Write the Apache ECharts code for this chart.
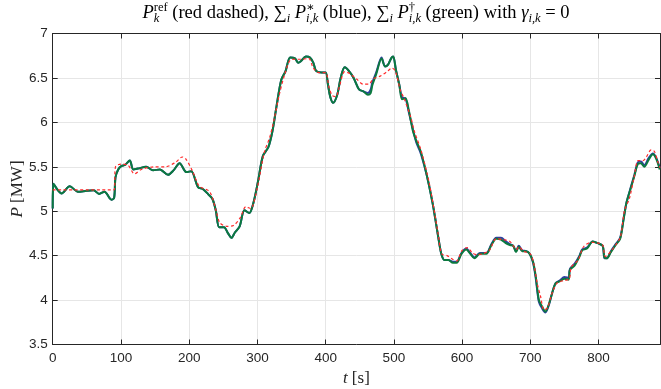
<!DOCTYPE html>
<html>
<head>
<meta charset="utf-8">
<script src="https://cdn.jsdelivr.net/npm/echarts@6/dist/echarts.min.js"></script>
<style>
html,body{margin:0;padding:0;background:#fff;}
#c{width:661px;height:389px;}
</style>
</head>
<body>
<div id="c"></div>
<script>
// ---- data (time in s, power in MW) ----
const tGreen = [0,1,13,25,37,50,60,68,76,86,90,92,96,101,106,113,118,125,137,147,157,169,177,186,196,203,213,220,228,234,239,244,251,257,262,267,274,281,288,294,301,308,316,322,328,335,341,348,355,360,364,371,377,382,386,394,400,403.5,407,411,417,422,428,434,441,449,455,462,466,468.5,474,482,487,491.5,496,499,503,508,512,517,522,528,533,539,545,551,557,561,565,569.5,574,580,586.5,592,599,606,612,618,626,635.5,643,650,657,664,670,675,679,683,688,694,699,704,708,712.5,717,722,727,732,737,743,750,756,758,765,772,776,783,791.5,799,806,808.6,812,818,825,831.6,836.5,841,847.6,852.5,857.5,862,867,873.5,879.6,884.5,889.6];
const pGreen = [5.03,5.31,5.20,5.28,5.22,5.23,5.235,5.195,5.22,5.13,5.15,5.38,5.47,5.51,5.52,5.57,5.47,5.48,5.50,5.46,5.47,5.41,5.46,5.54,5.44,5.45,5.27,5.25,5.19,5.14,5.01,4.82,4.82,4.75,4.70,4.76,4.83,5.01,4.98,5.09,5.34,5.62,5.72,5.90,6.18,6.48,6.57,6.73,6.72,6.67,6.69,6.74,6.73,6.67,6.58,6.56,6.56,6.42,6.28,6.22,6.31,6.50,6.62,6.58,6.50,6.37,6.35,6.31,6.33,6.42,6.54,6.72,6.63,6.65,6.72,6.74,6.59,6.42,6.26,6.27,6.13,5.90,5.79,5.68,5.51,5.31,5.08,4.90,4.71,4.52,4.45,4.45,4.42,4.42,4.52,4.57,4.52,4.47,4.52,4.52,4.62,4.69,4.68,4.64,4.62,4.61,4.54,4.60,4.55,4.55,4.52,4.43,4.26,4.00,3.93,3.87,3.95,4.08,4.19,4.21,4.24,4.23,4.34,4.39,4.49,4.56,4.58,4.66,4.64,4.61,4.48,4.47,4.54,4.62,4.69,4.90,5.10,5.27,5.40,5.53,5.54,5.50,5.58,5.64,5.59,5.47];
const tBlue = tGreen;
const pBlue = [5.03,5.31,5.20,5.28,5.22,5.23,5.235,5.195,5.22,5.13,5.15,5.38,5.47,5.51,5.52,5.57,5.47,5.48,5.50,5.46,5.47,5.41,5.46,5.54,5.44,5.45,5.27,5.25,5.19,5.14,5.01,4.82,4.82,4.75,4.70,4.76,4.83,5.01,4.98,5.09,5.34,5.62,5.72,5.90,6.18,6.48,6.57,6.73,6.72,6.67,6.69,6.74,6.73,6.67,6.58,6.56,6.56,6.42,6.28,6.22,6.31,6.50,6.62,6.58,6.50,6.37,6.35,6.33,6.37,6.45,6.56,6.73,6.63,6.65,6.72,6.74,6.59,6.42,6.28,6.27,6.11,5.92,5.77,5.66,5.50,5.31,5.08,4.90,4.71,4.52,4.45,4.45,4.43,4.43,4.53,4.58,4.53,4.48,4.53,4.53,4.63,4.70,4.70,4.66,4.63,4.61,4.55,4.61,4.56,4.55,4.52,4.42,4.24,3.98,3.91,3.86,3.94,4.08,4.19,4.22,4.26,4.25,4.35,4.41,4.50,4.57,4.59,4.66,4.64,4.61,4.47,4.47,4.55,4.63,4.70,4.91,5.10,5.28,5.41,5.55,5.56,5.52,5.60,5.65,5.60,5.49];
const tRef = [0,90,92,100,110,120,130,150,165,180,190,195,205,215,230,240,245,255,265,275,283,290,300,310,318,325,332,340,348,355,365,375,382,390,400,405,410,415,420,428,435,445,455,463,470,480,490,497,502,510,515,525,530,540,552,565,570,578,586,592,600,608,615,622,630,640,650,660,670,680,683,690,700,705,710,715,720,725,732,740,750,757,760,770,778,790,800,806,810,818,825,832,838,845,852,858,865,870,877,882,887,890];
const pRef = [5.24,5.24,5.50,5.53,5.52,5.42,5.47,5.50,5.50,5.55,5.61,5.59,5.45,5.28,5.22,4.99,4.87,4.83,4.84,4.93,5.05,5.03,5.27,5.66,5.83,6.05,6.31,6.54,6.70,6.71,6.71,6.72,6.61,6.56,6.56,6.39,6.30,6.29,6.40,6.57,6.55,6.49,6.43,6.43,6.49,6.52,6.57,6.61,6.58,6.35,6.27,6.05,5.90,5.68,5.31,4.74,4.52,4.50,4.46,4.44,4.56,4.59,4.53,4.51,4.52,4.56,4.69,4.68,4.66,4.57,4.60,4.55,4.52,4.41,4.19,4.04,3.89,3.91,4.08,4.20,4.22,4.24,4.37,4.45,4.60,4.65,4.64,4.62,4.49,4.55,4.62,4.71,5.01,5.14,5.38,5.57,5.57,5.61,5.69,5.67,5.55,5.49];

const xMin = 0, xMax = 890, xStep = 100;
const yMin = 3.5, yMax = 7, yStep = 0.5;

function zip(t, p) { return t.map((v, i) => [v, p[i]]); }

const chart = echarts.init(document.getElementById('c'), null, {renderer: 'canvas'});

// ---- title layout (math-like pieces) ----
const SERIF = '"Liberation Serif", "DejaVu Serif", serif';
const BIG = 18.5, SMALL = 12.5;
const meas = document.createElement('canvas').getContext('2d');
function fontStr(size, italic) { return (italic ? 'italic ' : '') + size + 'px ' + SERIF; }
function tw(text, size, italic) { meas.font = fontStr(size, italic); return meas.measureText(text).width; }
const titlePieces = [
  {t: 'P', s: BIG, i: true, dy: 0},
  {t: 'ref', s: SMALL, i: false, dy: -7},
  {t: 'k', s: SMALL, i: true, dy: 4, stack: true},
  {t: ' (red dashed), ', s: BIG, i: false, dy: 0},
  {t: '\u2211', s: BIG, i: false, dy: 0},
  {t: 'i', s: SMALL, i: true, dy: 4},
  {t: ' ', s: BIG, i: false, dy: 0},
  {t: 'P', s: BIG, i: true, dy: 0},
  {t: '\u2217', s: SMALL, i: false, dy: -7},
  {t: 'i,k', s: SMALL, i: true, dy: 4, stack: true},
  {t: ' (blue), ', s: BIG, i: false, dy: 0},
  {t: '\u2211', s: BIG, i: false, dy: 0},
  {t: 'i', s: SMALL, i: true, dy: 4},
  {t: ' ', s: BIG, i: false, dy: 0},
  {t: 'P', s: BIG, i: true, dy: 0},
  {t: '\u2020', s: SMALL, i: false, dy: -7},
  {t: 'i,k', s: SMALL, i: true, dy: 4, stack: true},
  {t: ' (green) with ', s: BIG, i: false, dy: 0},
  {t: '\u03b3', s: BIG, i: true, dy: 0},
  {t: 'i,k', s: SMALL, i: true, dy: 4},
  {t: ' = 0', s: BIG, i: false, dy: 0}
];
const TITLE_CX = 356, TITLE_BASE = 19;
let x = 0, lastStart = 0, lastW = 0;
const placed = [];
titlePieces.forEach(p => {
  const w = tw(p.t, p.s, p.i);
  let sx;
  if (p.stack) { sx = lastStart; x = lastStart + Math.max(lastW, w); }
  else { sx = x; x = sx + w; }
  lastStart = sx; lastW = w;
  placed.push({p, sx});
});
const x0 = TITLE_CX - x / 2;
const titleGraphics = placed.map(({p, sx}) => ({
  type: 'text',
  x: x0 + sx,
  y: TITLE_BASE + p.dy - 0.34 * p.s,
  silent: true,
  style: {
    text: p.t,
    font: fontStr(p.s, p.i),
    fill: '#000',
    align: 'left',
    verticalAlign: 'middle'
  }
}));

const axisColor = '#262626';
const tickLabel = {color: axisColor, fontSize: 13.5, fontFamily: '"Liberation Sans", Arial, sans-serif'};

const option = {
  animation: false,
  backgroundColor: '#fff',
  grid: {left: 52.7, right: 1, top: 33.5, bottom: 44.5, containLabel: false, outerBoundsMode: 'none'},
  graphic: titleGraphics,
  xAxis: [
    {
      type: 'value', min: xMin, max: xMax, interval: xStep, position: 'bottom',
      axisLine: {show: true, onZero: false, lineStyle: {color: axisColor, width: 1}},
      axisTick: {show: true, inside: true, length: 5, lineStyle: {color: axisColor}},
      axisLabel: Object.assign({margin: 7, showMaxLabel: false}, tickLabel),
      splitLine: {show: true, lineStyle: {color: '#e6e6e6', width: 1}},
      name: '{i|t} [s]', nameLocation: 'middle', nameGap: 26, nameMoveOverlap: false,
      nameTextStyle: {fontFamily: SERIF, fontSize: 17, color: axisColor,
        rich: {i: {fontFamily: SERIF, fontSize: 17, fontStyle: 'italic', color: axisColor}}}
    },
    {
      type: 'value', min: xMin, max: xMax, interval: xStep, position: 'top',
      axisLine: {show: true, onZero: false, lineStyle: {color: axisColor, width: 1}},
      axisTick: {show: true, inside: true, length: 5, lineStyle: {color: axisColor}},
      axisLabel: {show: false}, splitLine: {show: false}
    }
  ],
  yAxis: [
    {
      type: 'value', min: yMin, max: yMax, interval: yStep, position: 'left',
      axisLine: {show: true, onZero: false, lineStyle: {color: axisColor, width: 1}},
      axisTick: {show: true, inside: true, length: 5, lineStyle: {color: axisColor}},
      axisLabel: Object.assign({margin: 5}, tickLabel),
      splitLine: {show: true, lineStyle: {color: '#e6e6e6', width: 1}},
      name: '{i|P} [MW]', nameLocation: 'middle', nameGap: 27, nameRotate: 90, nameMoveOverlap: false,
      nameTextStyle: {fontFamily: SERIF, fontSize: 17, color: axisColor,
        rich: {i: {fontFamily: SERIF, fontSize: 17, fontStyle: 'italic', color: axisColor}}}
    },
    {
      type: 'value', min: yMin, max: yMax, interval: yStep, position: 'right',
      axisLine: {show: true, onZero: false, lineStyle: {color: axisColor, width: 1}},
      axisTick: {show: true, inside: true, length: 5, lineStyle: {color: axisColor}},
      axisLabel: {show: false}, splitLine: {show: false}
    }
  ],
  series: [
    {type: 'line', name: 'blue', data: zip(tBlue, pBlue), showSymbol: false, smooth: 0.3,
      lineStyle: {color: '#2f3fa0', width: 2}, z: 2},
    {type: 'line', name: 'green', data: zip(tGreen, pGreen), showSymbol: false, smooth: 0.3,
      lineStyle: {color: '#0b7a3e', width: 2}, z: 3},
    {type: 'line', name: 'ref', data: zip(tRef, pRef), showSymbol: false, smooth: 0.3,
      lineStyle: {color: '#ff2a2a', width: 1.2, type: [3, 2.5]}, z: 4}
  ]
};
chart.setOption(option);
</script>
</body>
</html>
